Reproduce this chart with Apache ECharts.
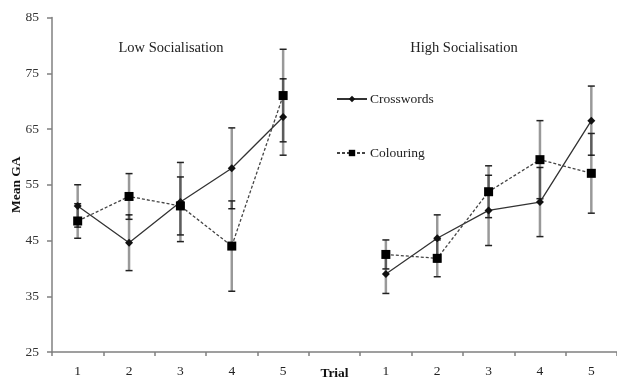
<!DOCTYPE html>
<html>
<head>
<meta charset="utf-8">
<script src="https://cdn.jsdelivr.net/npm/echarts@6/dist/echarts.min.js"></script>
<style>html,body{margin:0;padding:0;background:#fff}#c{width:617px;height:378px}</style>
</head>
<body>
<div id="c"></div>
<script>
// Categories: 5 trials per panel, a gap slot carrying the axis title
var categories = ['1','2','3','4','5','Trial','1','2','3','4','5'];
var panelTitles = ['Low Socialisation', 'High Socialisation'];
var yTicks = {min: 25, max: 85, interval: 10};

// Low socialisation
var lowCrosswords = [51.2, 44.6, 51.9, 57.95, 67.15];
var lowCrosswordsErr = [3.8, 5.0, 7.1, 7.25, 6.85];
var lowColouring = [48.5, 52.9, 51.2, 44.0, 71.0];
var lowColouringErr = [3.1, 4.1, 5.2, 8.1, 8.3];

// High socialisation
var highCrosswords = [39.0, 45.4, 50.4, 51.9, 66.5];
var highCrosswordsErr = [3.5, 4.2, 6.3, 6.2, 6.2];
var highColouring = [42.5, 41.8, 53.75, 59.5, 57.05];
var highColouringErr = [2.6, 3.3, 4.65, 7.0, 7.15];

var FONT = '"Liberation Serif","Times New Roman",serif';

function joinPanels(a, b) { return a.concat([null]).concat(b); }
var crossMeans = joinPanels(lowCrosswords, highCrosswords);
var crossErrs = joinPanels(lowCrosswordsErr, highCrosswordsErr);
var colMeans = joinPanels(lowColouring, highColouring);
var colErrs = joinPanels(lowColouringErr, highColouringErr);

function errData(means, errs) {
  var out = [];
  for (var i = 0; i < means.length; i++) {
    if (means[i] == null) continue;
    out.push([i, means[i] - errs[i], means[i] + errs[i]]);
  }
  return out;
}

function errRender(params, api) {
  var x = api.value(0);
  var lo = api.coord([x, api.value(1)]);
  var hi = api.coord([x, api.value(2)]);
  var hw = 3.5;
  return {
    type: 'group',
    children: [
      {type: 'line', shape: {x1: lo[0], y1: lo[1], x2: hi[0], y2: hi[1]},
       style: {stroke: 'rgba(0,0,0,0.4)', lineWidth: 2.5}},
      {type: 'line', shape: {x1: lo[0]-hw, y1: lo[1], x2: lo[0]+hw, y2: lo[1]},
       style: {stroke: '#222', lineWidth: 1.5}},
      {type: 'line', shape: {x1: hi[0]-hw, y1: hi[1], x2: hi[0]+hw, y2: hi[1]},
       style: {stroke: '#222', lineWidth: 1.5}}
    ]
  };
}

var chart = echarts.init(document.getElementById('c'));
chart.setOption({
  animation: false,
  backgroundColor: '#fff',
  textStyle: {fontFamily: FONT},
  title: [
    {text: panelTitles[0], left: 166, top: 36, textAlign: 'center',
     textStyle: {fontFamily: FONT, fontSize: 14.5, fontWeight: 'normal', color: '#222'}},
    {text: panelTitles[1], left: 459, top: 36, textAlign: 'center',
     textStyle: {fontFamily: FONT, fontSize: 14.5, fontWeight: 'normal', color: '#222'}}
  ],
  legend: {
    data: ['Crosswords', 'Colouring'],
    orient: 'vertical',
    left: 331, top: 87,
    itemWidth: 30, itemHeight: 8,
    itemGap: 40,
    textStyle: {fontFamily: FONT, fontSize: 13.5, color: '#222', padding: [0,0,0,-2]},
    selectedMode: false
  },
  grid: {left: 52, right: 0, top: 17.5, bottom: 26, containLabel: false, outerBoundsMode: 'none'},
  xAxis: {
    type: 'category',
    data: categories,
    boundaryGap: true,
    axisLine: {lineStyle: {color: '#808080', width: 1.5}},
    axisTick: {show: true, length: 4, inside: false, interval: 0, lineStyle: {color: '#808080', width: 1.5}},
    axisLabel: {
      interval: 0, hideOverlap: false,
      margin: 12, fontFamily: FONT, fontSize: 13.5, color: '#222',
      formatter: function (v) { return v === 'Trial' ? '{b|Trial}' : v; },
      rich: {b: {fontFamily: FONT, fontSize: 13.5, fontWeight: 'bold', color: '#111', padding: [3,0,0,0]}}
    },
    splitLine: {show: false}
  },
  yAxis: {
    type: 'value',
    min: yTicks.min, max: yTicks.max, interval: yTicks.interval,
    name: 'Mean GA',
    nameLocation: 'middle',
    nameGap: 28,
    nameMoveOverlap: false,
    nameTextStyle: {fontFamily: FONT, fontSize: 13.5, fontWeight: 'bold', color: '#111'},
    axisLine: {show: true, lineStyle: {color: '#808080', width: 1.5}},
    axisTick: {show: true, length: 5, lineStyle: {color: '#808080', width: 1.5}},
    axisLabel: {margin: 13, fontFamily: FONT, fontSize: 13.5, color: '#333'},
    splitLine: {show: false}
  },
  series: [
    {type: 'custom', name: 'errCross', renderItem: errRender, data: errData(crossMeans, crossErrs), z: 1, silent: true},
    {type: 'custom', name: 'errCol', renderItem: errRender, data: errData(colMeans, colErrs), z: 1, silent: true},
    {type: 'line', name: 'Crosswords', data: crossMeans, connectNulls: false, z: 3,
     symbol: 'diamond', symbolSize: 8,
     itemStyle: {color: '#111'},
     lineStyle: {color: '#333', width: 1.3, type: 'solid'}},
    {type: 'line', name: 'Colouring', data: colMeans, connectNulls: false, z: 3,
     symbol: 'rect', symbolSize: 9,
     itemStyle: {color: '#000'},
     lineStyle: {color: '#444', width: 1.3, type: [3, 2]}}
  ]
});
</script>
</body>
</html>
